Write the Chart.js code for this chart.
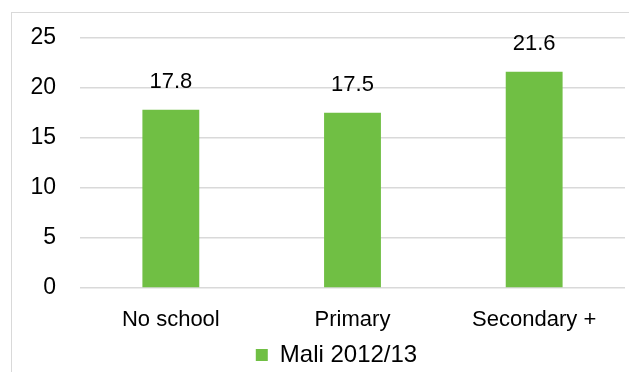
<!DOCTYPE html>
<html>
<head>
<meta charset="utf-8">
<script src="https://cdn.jsdelivr.net/npm/chart.js@4"></script>
<style>
  html, body { margin: 0; padding: 0; background: #fff; }
  #wrap { position: relative; width: 629px; height: 372px; overflow: hidden; }
  #frame { position: absolute; left: 11px; top: 12px; width: 640px; height: 400px; border: 1px solid #d9d9d9; box-sizing: border-box; }
  canvas { position: absolute; left: 0; top: 0; }
</style>
</head>
<body>
<div id="wrap">
  <div id="frame"></div>
  <canvas id="myChart" width="629" height="372"></canvas>
</div>
<script>
const categories = ['No school', 'Primary', 'Secondary +'];
const seriesName = 'Mali 2012/13';
const values = [17.8, 17.5, 21.6];
const yTicks = [0, 5, 10, 15, 20, 25];

const FONT = "'Liberation Sans', Arial, sans-serif";

// simple value labels above each bar
const barLabels = {
    id: 'barLabels',
    afterDatasetsDraw(chart) {
        const ctx = chart.ctx;
        ctx.save();
        ctx.font = '22px ' + FONT;
        ctx.fillStyle = '#000';
        ctx.textAlign = 'center';
        ctx.textBaseline = 'bottom';
        chart.getDatasetMeta(0).data.forEach((bar, i) => {
            ctx.fillText(values[i].toFixed(1), bar.x, bar.y - 17);
        });
        ctx.restore();
    }
};

// legend sits a bit right of centre in the original
const legendShift = {
    id: 'legendShift',
    afterLayout(chart) {
        chart.legend.left += 48;
    }
};

var ctx = document.getElementById('myChart').getContext('2d');
var myChart = new Chart(ctx, {
    type: 'bar',
    data: {
        labels: categories,
        datasets: [{
            label: seriesName,
            data: values,
            backgroundColor: '#70bf44',
            borderWidth: 0,
            categoryPercentage: 1,
            barPercentage: 0.313
        }]
    },
    options: {
        responsive: false,
        animation: false,
        layout: { padding: { top: 37, right: 4, left: 0, bottom: -5 } },
        plugins: {
            tooltip: { enabled: false },
            legend: {
                position: 'bottom',
                labels: {
                    color: '#000',
                    font: { family: FONT, size: 24 },
                    boxWidth: 12,
                    boxHeight: 12,
                    padding: 4
                }
            }
        },
        scales: {
            x: {
                grid: { display: false },
                border: { display: false },
                ticks: { color: '#000', font: { family: FONT, size: 22 }, padding: 11 },
                afterFit: s => { s.height = 51; }
            },
            y: {
                min: 0,
                max: 25,
                afterBuildTicks: s => { s.ticks = yTicks.map(v => ({ value: v })); },
                grid: { color: '#d9d9d9', lineWidth: 1.5, drawTicks: false },
                border: { display: false },
                ticks: { color: '#000', font: { family: FONT, size: 23 }, padding: 24 },
                afterFit: s => { s.width = 80; }
            }
        }
    },
    plugins: [barLabels, legendShift]
});
</script>
</body>
</html>
